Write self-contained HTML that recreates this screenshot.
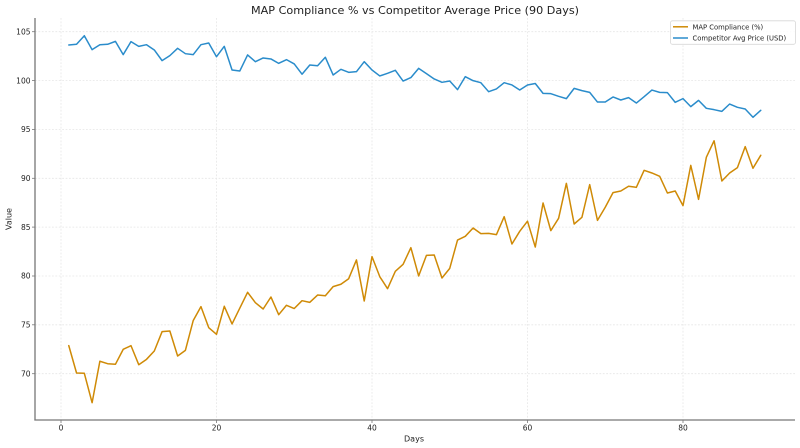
<!DOCTYPE html>
<html>
<head>
<meta charset="utf-8">
<style>
html,body{margin:0;padding:0;background:#fff;}
svg{display:block;}
text{font-family:"DejaVu Sans","Liberation Sans",sans-serif;fill:#222;}
</style>
</head>
<body>
<svg width="800" height="448" viewBox="0 0 800 448" xmlns="http://www.w3.org/2000/svg">
<rect width="800" height="448" fill="#fff"/>
<!-- grid -->
<g stroke="#e6e6e6" stroke-width="0.8" stroke-dasharray="1.8,1.6">
  <line x1="35" x2="795" y1="31.7" y2="31.7"/>
  <line x1="35" x2="795" y1="80.6" y2="80.6"/>
  <line x1="35" x2="795" y1="129.4" y2="129.4"/>
  <line x1="35" x2="795" y1="178.3" y2="178.3"/>
  <line x1="35" x2="795" y1="227.1" y2="227.1"/>
  <line x1="35" x2="795" y1="276.0" y2="276.0"/>
  <line x1="35" x2="795" y1="324.8" y2="324.8"/>
  <line x1="35" x2="795" y1="373.7" y2="373.7"/>
  <line x1="61" x2="61" y1="18" y2="420"/>
  <line x1="216.5" x2="216.5" y1="18" y2="420"/>
  <line x1="372" x2="372" y1="18" y2="420"/>
  <line x1="527.5" x2="527.5" y1="18" y2="420"/>
  <line x1="683" x2="683" y1="18" y2="420"/>
</g>
<!-- spines -->
<line x1="35" x2="35" y1="18" y2="420.5" stroke="#777" stroke-width="1.3"/>
<line x1="34.4" x2="795" y1="420" y2="420" stroke="#777" stroke-width="1.3"/>
<!-- ticks -->
<g stroke="#777" stroke-width="0.8">
  <line x1="32" x2="35" y1="31.7" y2="31.7"/>
  <line x1="32" x2="35" y1="80.6" y2="80.6"/>
  <line x1="32" x2="35" y1="129.4" y2="129.4"/>
  <line x1="32" x2="35" y1="178.3" y2="178.3"/>
  <line x1="32" x2="35" y1="227.1" y2="227.1"/>
  <line x1="32" x2="35" y1="276.0" y2="276.0"/>
  <line x1="32" x2="35" y1="324.8" y2="324.8"/>
  <line x1="32" x2="35" y1="373.7" y2="373.7"/>
  <line x1="61" x2="61" y1="420" y2="423"/>
  <line x1="216.5" x2="216.5" y1="420" y2="423"/>
  <line x1="372" x2="372" y1="420" y2="423"/>
  <line x1="527.5" x2="527.5" y1="420" y2="423"/>
  <line x1="683" x2="683" y1="420" y2="423"/>
</g>
<g font-size="7.5" text-anchor="end">
  <text x="30.5" y="34.4">105</text>
  <text x="30.5" y="83.3">100</text>
  <text x="30.5" y="132.1">95</text>
  <text x="30.5" y="181">90</text>
  <text x="30.5" y="229.8">85</text>
  <text x="30.5" y="278.7">80</text>
  <text x="30.5" y="327.5">75</text>
  <text x="30.5" y="376.4">70</text>
</g>
<g font-size="7.5" text-anchor="middle">
  <text x="61" y="430.5">0</text>
  <text x="216.5" y="430.5">20</text>
  <text x="372" y="430.5">40</text>
  <text x="527.5" y="430.5">60</text>
  <text x="683" y="430.5">80</text>
</g>
<text x="414" y="441.5" font-size="8" text-anchor="middle">Days</text>
<text x="0" y="0" font-size="8" text-anchor="middle" transform="translate(11.5,219) rotate(-90)">Value</text>
<text x="415" y="14" font-size="10.5" text-anchor="middle" textLength="328" lengthAdjust="spacingAndGlyphs">MAP Compliance % vs Competitor Average Price (90 Days)</text>

<!-- series -->
<g transform="translate(61,1057.655) scale(7.775,-9.771)" fill="none" stroke-linejoin="round" stroke-linecap="round">
<polyline vector-effect="non-scaling-stroke" stroke="#2a8ccb" stroke-width="1.5" points="1,103.64 2,103.71 3,104.59 4,103.16 5,103.67 6,103.71 7,104.01 8,102.65 9,103.98 10,103.50 11,103.67 12,103.13 13,102.04 14,102.55 15,103.30 16,102.75 17,102.65 18,103.67 19,103.84 20,102.44 21,103.50 22,101.08 23,100.98 24,102.62 25,101.93 26,102.31 27,102.21 28,101.76 29,102.14 30,101.70 31,100.65 32,101.59 33,101.52 34,102.38 35,100.57 36,101.15 37,100.84 38,100.91 39,101.93 40,101.08 41,100.47 42,100.74 43,101.05 44,99.95 45,100.30 46,101.25 47,100.71 48,100.16 49,99.82 50,99.95 51,99.07 52,100.40 53,99.99 54,99.78 55,98.86 56,99.14 57,99.78 58,99.55 59,99.03 60,99.55 61,99.70 62,98.69 63,98.66 64,98.39 65,98.15 66,99.20 67,98.97 68,98.79 69,97.80 70,97.80 71,98.32 72,98.01 73,98.25 74,97.70 75,98.35 76,99.03 77,98.79 78,98.76 79,97.77 80,98.15 81,97.33 82,97.97 83,97.16 84,97.02 85,96.85 86,97.60 87,97.26 88,97.09 89,96.24 90,96.95"/>
<polyline vector-effect="non-scaling-stroke" stroke="#cf8a06" stroke-width="1.5" points="1,72.87 2,70.07 3,70.04 4,67.03 5,71.27 6,71.02 7,70.96 8,72.49 9,72.87 10,70.92 11,71.47 12,72.32 13,74.30 14,74.37 15,71.81 16,72.39 17,75.43 18,76.86 19,74.71 20,74.03 21,76.90 22,75.09 23,76.72 24,78.33 25,77.27 26,76.62 27,77.85 28,76.04 29,77.00 30,76.67 31,77.47 32,77.30 33,78.05 34,77.98 35,78.91 36,79.15 37,79.72 38,81.64 39,77.44 40,81.98 41,79.93 42,78.70 43,80.48 44,81.19 45,82.90 46,80.00 47,82.11 48,82.15 49,79.79 50,80.78 51,83.68 52,84.06 53,84.91 54,84.33 55,84.36 56,84.23 57,86.07 58,83.27 59,84.57 60,85.61 61,82.96 62,87.47 63,84.64 64,85.90 65,89.48 66,85.32 67,86.00 68,89.35 69,85.69 70,87.03 71,88.53 72,88.70 73,89.18 74,89.07 75,90.81 76,90.54 77,90.20 78,88.49 79,88.70 80,87.20 81,91.32 82,87.84 83,92.14 84,93.84 85,89.72 86,90.54 87,91.09 88,93.24 89,91.02 90,92.35"/>
</g>

<!-- legend -->
<rect x="670.5" y="20.8" width="125" height="23.5" rx="2" ry="2" fill="#fff" fill-opacity="0.85" stroke="#d8d8d8" stroke-width="0.8"/>
<line x1="673" x2="688" y1="26.8" y2="26.8" stroke="#cf8a06" stroke-width="1.5"/>
<line x1="673" x2="688" y1="38" y2="38" stroke="#2a8ccb" stroke-width="1.5"/>
<text x="692.5" y="29.5" font-size="6.8">MAP Compliance (%)</text>
<text x="692.5" y="40.7" font-size="6.8">Competitor Avg Price (USD)</text>
</svg>
</body>
</html>
